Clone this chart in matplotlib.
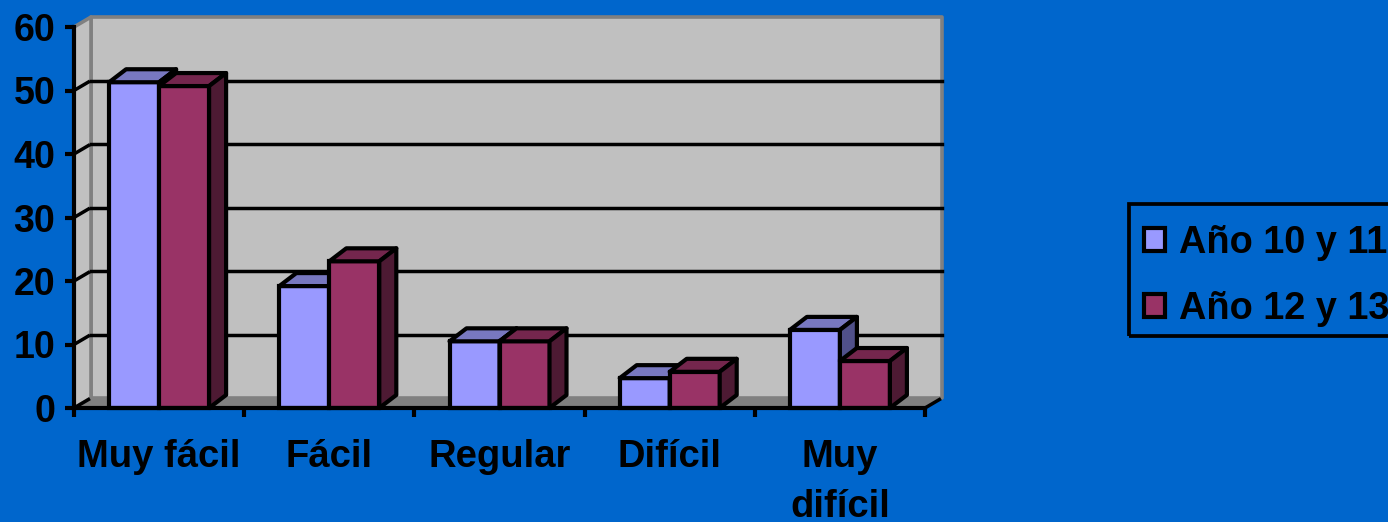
#! /usr/bin/env python3

import numpy as np
from matplotlib import pyplot as plt
from matplotlib.patches import Polygon, Rectangle

categories = ["Muy fácil", "Fácil", "Regular", "Difícil", "Muy\ndifícil"]
series_names = ["Año 10 y 11", "Año 12 y 13"]
values_a = [51.3, 19.2, 10.5, 4.7, 12.3]
values_b = [50.7, 23.1, 10.5, 5.7, 7.4]
yticks = [0, 10, 20, 30, 40, 50, 60]

BG = "#0066CC"
WALL = "#C0C0C0"
FLOOR = "#808080"
# front, top, side
COLORS_A = ("#9999FF", "#7878C0", "#50508A")
COLORS_B = ("#993366", "#74264D", "#4D1A33")

W, H = 1388, 522
X0, X1, Y0, Y1 = 74, 925, 408, 27
LW = 3.0

plt.rcParams["font.family"] = ["Liberation Sans", "DejaVu Sans"]
plt.rcParams["font.weight"] = "bold"

fig = plt.figure(figsize=(W / 100, H / 100), dpi=100, facecolor=BG)
ax = fig.add_axes([X0 / W, 1 - Y0 / H, (X1 - X0) / W, (Y0 - Y1) / H])
ax.set_facecolor("none")
ax.set_xlim(0, len(categories))
ax.set_ylim(0, 60)

# depth of the fake 3d box, walls and bars, in data units
ppx = len(categories) / (X1 - X0)
ppy = 60 / (Y0 - Y1)
wall_dx, wall_dy = 17 * ppx, 10 * ppy
bar_dx, bar_dy = 17 * ppx, 13 * ppy
bar_w = 50 * ppx
xmax = len(categories)


def poly(pts, fc, ec, lw=LW, z=2):
    ax.add_patch(Polygon(pts, closed=True, facecolor=fc, edgecolor=ec, linewidth=lw,
                         joinstyle="round", clip_on=False, zorder=z))


# walls
poly([(0, 0), (xmax, 0), (xmax + wall_dx, wall_dy), (wall_dx, wall_dy)], FLOOR, FLOOR, 1, 1)
poly([(wall_dx, wall_dy), (xmax + wall_dx, wall_dy), (xmax + wall_dx, 60 + wall_dy), (wall_dx, 60 + wall_dy)], WALL, FLOOR, 2.6, 1.1)
poly([(0, 0), (wall_dx, wall_dy), (wall_dx, 60 + wall_dy), (0, 60)], WALL, FLOOR, 2.6, 1.1)

# gridlines, back wall and left wall
for v in yticks[1:-1]:
    ax.plot([wall_dx, xmax + wall_dx], [v + wall_dy, v + wall_dy], color="black", lw=2.5, clip_on=False, zorder=1.5)
for v in yticks[:-1]:
    ax.plot([0, wall_dx * 0.85], [v, v + wall_dy * 0.85], color="black", lw=2.5, clip_on=False, zorder=1.5)
ax.plot([xmax, xmax + wall_dx * 0.85], [0, wall_dy * 0.85], color="black", lw=2.5, clip_on=False, zorder=1.5)


def bar3d(left, val, colors, z):
    ax.bar(left, val, bar_w, align="edge", color=colors[0], edgecolor="black", linewidth=LW, clip_on=False, zorder=z)
    poly([(left, val), (left + bar_w, val), (left + bar_w + bar_dx, val + bar_dy), (left + bar_dx, val + bar_dy)], colors[1], "black", z=z)
    poly([(left + bar_w, 0), (left + bar_w + bar_dx, bar_dy), (left + bar_w + bar_dx, val + bar_dy), (left + bar_w, val)], colors[2], "black", z=z)


centers = np.arange(len(categories)) + 0.5
for c, a, b in zip(centers, values_a, values_b):
    bar3d(c - bar_w, a, COLORS_A, 3)
    bar3d(c, b, COLORS_B, 4)

for name in ["top", "right"]:
    ax.spines[name].set_visible(False)
for name in ["left", "bottom"]:
    ax.spines[name].set_linewidth(LW)
    ax.spines[name].set_zorder(6)

ax.set_yticks(yticks)
ax.set_xticks(np.arange(len(categories) + 1))
ax.set_xticklabels([])
ax.set_xticks(centers, categories, minor=True)
ax.tick_params(axis="x", which="major", length=6.5, width=LW, direction="out")
ax.tick_params(axis="x", which="minor", length=0, pad=22, labelsize=27.5)
ax.tick_params(axis="y", length=6.5, width=LW, direction="out", pad=7, labelsize=27)
for lab in ax.get_xticklabels(minor=True):
    lab.set_linespacing(1.53)
    lab.set_verticalalignment("top")

# legend box runs off the right edge, so it is drawn apart from the entries
fig.add_artist(Rectangle((1129 / W, 1 - 336 / H), 280 / W, 132 / H, transform=fig.transFigure,
                         facecolor="none", edgecolor="black", linewidth=2.7))
handles = [plt.Rectangle((0, 0), 1, 1, facecolor=COLORS_A[0], edgecolor="black", linewidth=LW),
           plt.Rectangle((0, 0), 1, 1, facecolor=COLORS_B[0], edgecolor="black", linewidth=LW)]
leg = fig.legend(handles, series_names, loc="center left", bbox_to_anchor=(1129 / W, 1 - 276 / H),
                 fontsize=27.3, frameon=False, handlelength=0.56, handleheight=0.56, handletextpad=0.35,
                 labelspacing=0.78, borderpad=0.4, borderaxespad=0)

fig.savefig("out.png", dpi=100, facecolor=BG)
